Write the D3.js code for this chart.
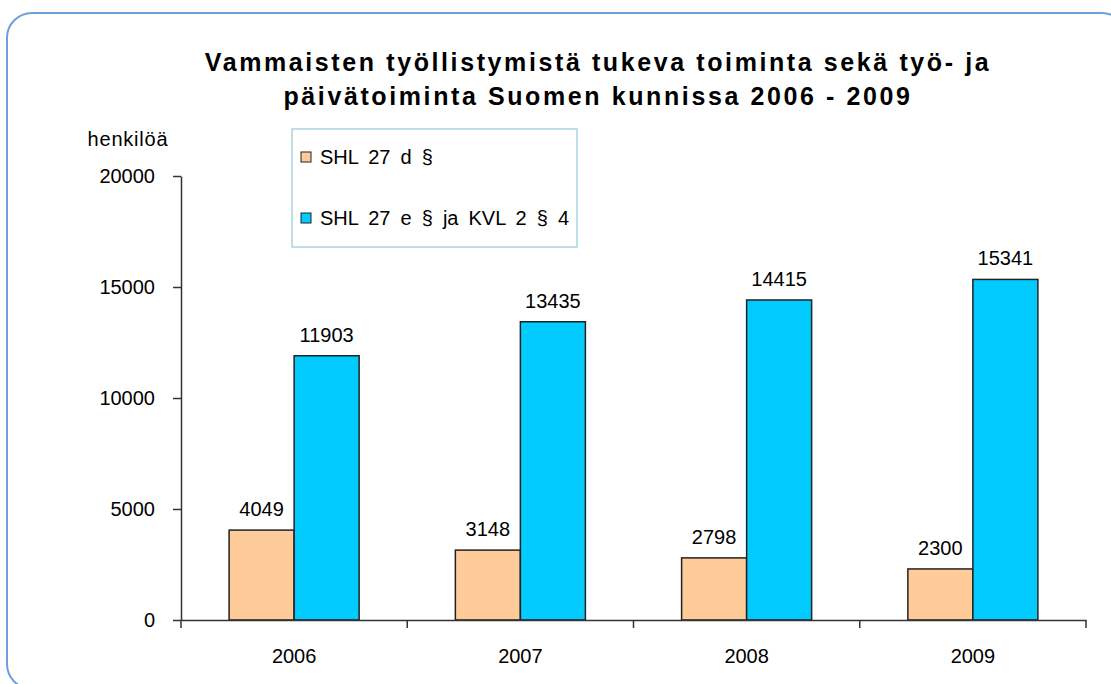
<!DOCTYPE html>
<meta charset="utf-8">
<style>
  body { margin: 0; background: #fff; }
  text { font-family: "Liberation Sans", Arial, sans-serif; fill: #000; }
</style>
<div id="chart"></div>
<script src="https://d3js.org/d3.v7.min.js"></script>
<script>
    var years = ["2006", "2007", "2008", "2009"];
    var seriesNames = ["SHL 27 d §", "SHL 27 e § ja KVL 2 § 4"];
    var shl27d = [4049, 3148, 2798, 2300];
    var shl27e = [11903, 13435, 14415, 15341];
    var yTicks = [0, 5000, 10000, 15000, 20000];
    var titleLines = ["Vammaisten työllistymistä tukeva toiminta sekä työ- ja",
                      "päivätoiminta Suomen kunnissa 2006 - 2009"];
    var yLabel = "henkilöä";

    var W = 1111, H = 684;
    var margin = {top: 176, right: 25, bottom: 64, left: 181};

    var svg = d3.select("#chart").append("svg")
        .attr("width", W)
        .attr("height", H);

    // dotted fills like the original
    var defs = svg.append("defs");
    function dots(id, bg, dot) {
        var p = defs.append("pattern")
            .attr("id", id)
            .attr("width", 8).attr("height", 8)
            .attr("patternUnits", "userSpaceOnUse");
        p.append("rect").attr("width", 8).attr("height", 8).attr("fill", bg);
        p.append("rect").attr("x", 2).attr("y", 2).attr("width", 1).attr("height", 1).attr("fill", dot);
        p.append("rect").attr("x", 6).attr("y", 6).attr("width", 1).attr("height", 1).attr("fill", dot);
    }
    dots("dotOrange", "#ffcc99", "#f8bca6");
    dots("dotBlue", "#00ccff", "#2aa5e6");

    // outer frame
    svg.append("rect")
        .attr("x", 7).attr("y", 13)
        .attr("width", 1120).attr("height", 676)
        .attr("rx", 25)
        .attr("fill", "none")
        .attr("stroke", "#6f9fd8")
        .attr("stroke-width", 2);

    var data = years.map(function(y, i) {
        return {year: y, values: [shl27d[i], shl27e[i]]};
    });

    var x = d3.scaleBand()
        .domain(years)
        .range([margin.left, W - margin.right]);

    var x1 = d3.scaleBand()
        .domain([0, 1])
        .range([0, x.bandwidth()])
        .paddingOuter(0.74);

    var y = d3.scaleLinear()
        .domain([0, 20000])
        .range([H - margin.bottom, margin.top]);

    var fills = ["url(#dotOrange)", "url(#dotBlue)"];

    // Title
    svg.append("g").selectAll("text")
        .data(titleLines)
        .enter().append("text")
        .attr("x", 598)
        .attr("y", function(d, i) { return 71 + i * 34; })
        .attr("text-anchor", "middle")
        .style("font-size", "25px")
        .style("font-weight", "bold")
        .style("letter-spacing", "2.6px")
        .text(function(d) { return d; });

    // Y axis
    var yAxis = svg.append("g")
        .attr("transform", "translate(" + margin.left + ",0)")
        .call(d3.axisLeft(y)
            .tickValues(yTicks)
            .tickSize(8)
            .tickSizeOuter(0)
            .tickPadding(18)
            .tickFormat(function(d) { return d; }));
    yAxis.selectAll("path, line").attr("stroke", "#333").attr("stroke-width", 1.5);
    yAxis.selectAll("text").style("font-size", "20px").style("font-family", "Liberation Sans, Arial, sans-serif").attr("fill", "#000");

    svg.append("text")
        .attr("x", 128)
        .attr("y", 146)
        .attr("text-anchor", "middle")
        .style("font-size", "20px")
        .style("letter-spacing", "0.8px")
        .text(yLabel);

    // bars
    var groups = svg.append("g").selectAll("g")
        .data(data)
        .enter().append("g")
        .attr("transform", function(d) { return "translate(" + x(d.year) + ",0)"; });

    groups.selectAll("rect")
        .data(function(d) { return d.values; })
        .enter().append("rect")
        .attr("x", function(d, i) { return x1(i); })
        .attr("y", function(d) { return y(d); })
        .attr("width", x1.bandwidth())
        .attr("height", function(d) { return y(0) - y(d); })
        .attr("fill", function(d, i) { return fills[i]; })
        .attr("stroke", "#222")
        .attr("stroke-width", 1.5);

    groups.selectAll("text.val")
        .data(function(d) { return d.values; })
        .enter().append("text")
        .attr("class", "val")
        .attr("x", function(d, i) { return x1(i) + x1.bandwidth() / 2; })
        .attr("y", function(d) { return y(d) - 14; })
        .attr("text-anchor", "middle")
        .style("font-size", "20px")
        .text(function(d) { return d; });

    // X axis
    var xAxis = svg.append("g")
        .attr("transform", "translate(0," + y(0) + ")")
        .call(d3.axisBottom(x).tickSize(0).tickPadding(29).tickSizeOuter(0));
    xAxis.select(".domain").attr("stroke", "#333").attr("stroke-width", 1.5);
    xAxis.selectAll("text").style("font-size", "20px").style("font-family", "Liberation Sans, Arial, sans-serif").attr("fill", "#000");

    // boundary ticks between categories
    var bounds = years.map(function(d) { return x(d); }).concat([x.range()[1]]);
    xAxis.selectAll("line.bound")
        .data(bounds)
        .enter().append("line")
        .attr("class", "bound")
        .attr("x1", function(d) { return d; })
        .attr("x2", function(d) { return d; })
        .attr("y1", 0).attr("y2", 8)
        .attr("stroke", "#333")
        .attr("stroke-width", 1.5);

    // Legend
    var legend = svg.append("g").attr("transform", "translate(292,129)");
    legend.append("rect")
        .attr("width", 285).attr("height", 118)
        .attr("fill", "#fff")
        .attr("stroke", "#a9d4e0")
        .attr("stroke-width", 1.5);
    var li = legend.selectAll("g.item")
        .data(seriesNames)
        .enter().append("g")
        .attr("transform", function(d, i) { return "translate(9," + (23 + i * 61) + ")"; });
    li.append("rect")
        .attr("width", 10).attr("height", 10)
        .attr("fill", function(d, i) { return i === 0 ? "#ffcc99" : "#00ccff"; })
        .attr("stroke", "#222");
    li.append("text")
        .attr("x", 19)
        .attr("y", 12)
        .style("font-size", "20px")
        .style("word-spacing", "4.5px")
        .text(function(d) { return d; });
</script>
